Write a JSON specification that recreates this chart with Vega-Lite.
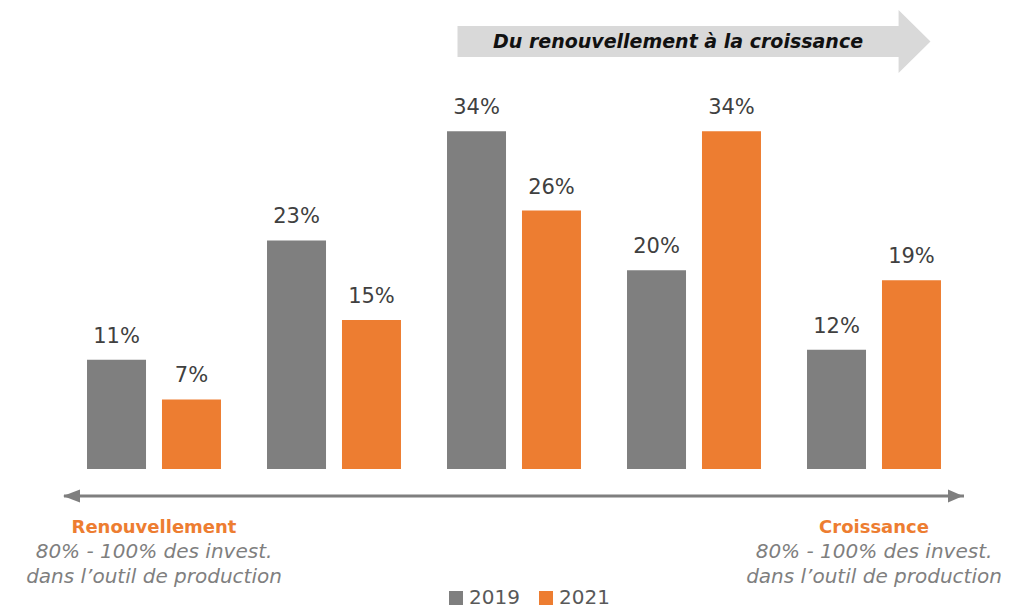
{
  "$schema": "https://vega.github.io/schema/vega-lite/v6.json",
  "autosize": {"type": "none"},
  "padding": {"left": 64, "top": 0, "right": 51, "bottom": 0},
  "width": 900,
  "height": 610,
  "config": {"view": {"stroke": null}, "font": "DejaVu Sans"},
  "datasets": {
    "parts": [
      {"groupe": "1", "annee": "2019", "part": 0.11},
      {"groupe": "1", "annee": "2021", "part": 0.07},
      {"groupe": "2", "annee": "2019", "part": 0.23},
      {"groupe": "2", "annee": "2021", "part": 0.15},
      {"groupe": "3", "annee": "2019", "part": 0.34},
      {"groupe": "3", "annee": "2021", "part": 0.26},
      {"groupe": "4", "annee": "2019", "part": 0.20},
      {"groupe": "4", "annee": "2021", "part": 0.34},
      {"groupe": "5", "annee": "2019", "part": 0.12},
      {"groupe": "5", "annee": "2021", "part": 0.19}
    ],
    "poles": [
      {"groupe": "1", "titre": "Renouvellement", "ligne1": "80% - 100% des invest.", "ligne2": "dans l’outil de production"},
      {"groupe": "5", "titre": "Croissance", "ligne1": "80% - 100% des invest.", "ligne2": "dans l’outil de production"}
    ],
    "fleche": [
      {"libelle": "Du renouvellement à la croissance"}
    ]
  },
  "layer": [
    {
      "data": {"name": "parts"},
      "mark": {"type": "bar"},
      "encoding": {
        "x": {"field": "groupe", "type": "nominal", "axis": null,
              "scale": {"domain": ["1", "2", "3", "4", "5"], "paddingInner": 0, "paddingOuter": 0}},
        "xOffset": {"field": "annee", "type": "nominal",
                    "scale": {"domain": ["2019", "2021"], "paddingInner": 0.213, "paddingOuter": 0.307}},
        "y": {"field": "part", "type": "quantitative", "axis": null,
              "scale": {"domain": [-0.142, 0.472], "nice": false, "zero": false}},
        "color": {"field": "annee", "type": "nominal",
                  "scale": {"domain": ["2019", "2021"], "range": ["#7f7f7f", "#ed7d31"]},
                  "legend": {"title": null, "orient": "none", "direction": "horizontal",
                             "legendX": 382, "legendY": 588, "padding": 0,
                             "symbolType": "square", "symbolSize": 196, "symbolStrokeWidth": 0,
                             "labelFontSize": 20, "labelColor": "#595959", "labelOffset": 3,
                             "columnPadding": 16}}
      }
    },
    {
      "data": {"name": "parts"},
      "mark": {"type": "text", "baseline": "alphabetic", "dy": -17, "fontSize": 21, "color": "#404040"},
      "encoding": {
        "x": {"field": "groupe", "type": "nominal"},
        "xOffset": {"field": "annee", "type": "nominal"},
        "y": {"field": "part", "type": "quantitative"},
        "text": {"field": "part", "type": "quantitative", "format": ".0%"}
      }
    },
    {
      "data": {"name": "fleche"},
      "mark": {"type": "point", "filled": true, "opacity": 1, "fill": "#d9d9d9", "strokeWidth": 0,
               "size": 223729,
               "shape": "M-1,-0.0655L0.865,-0.0655L0.865,-0.133L1,0L0.865,0.133L0.865,0.0655L-1,0.0655Z"},
      "encoding": {
        "x": {"datum": "4", "type": "nominal"},
        "y": {"datum": 0.4302, "type": "quantitative"}
      }
    },
    {
      "data": {"name": "fleche"},
      "mark": {"type": "text", "fontSize": 19, "fontWeight": "bold", "fontStyle": "italic",
               "color": "#111111", "baseline": "middle", "dx": -16},
      "encoding": {
        "x": {"datum": "4", "type": "nominal"},
        "y": {"datum": 0.4302, "type": "quantitative"},
        "text": {"field": "libelle"}
      }
    },
    {
      "data": {"name": "fleche"},
      "mark": {"type": "rule", "strokeWidth": 3, "color": "#7f7f7f"},
      "encoding": {
        "y": {"datum": -0.0273, "type": "quantitative"}
      }
    },
    {
      "data": {"name": "fleche"},
      "mark": {"type": "point", "filled": true, "opacity": 1, "fill": "#7f7f7f", "strokeWidth": 0,
               "size": 400, "shape": "M-0.1,0L1.6,-0.65L1.6,0.65Z"},
      "encoding": {
        "x": {"datum": "1", "type": "nominal", "bandPosition": 0},
        "y": {"datum": -0.0273, "type": "quantitative"}
      }
    },
    {
      "data": {"name": "fleche"},
      "mark": {"type": "point", "filled": true, "opacity": 1, "fill": "#7f7f7f", "strokeWidth": 0,
               "size": 400, "shape": "M-0.1,0L-1.6,-0.65L-1.6,0.65Z"},
      "encoding": {
        "x": {"datum": "5", "type": "nominal", "bandPosition": 1},
        "y": {"datum": -0.0273, "type": "quantitative"}
      }
    },
    {
      "data": {"name": "poles"},
      "mark": {"type": "text", "fontSize": 18, "fontWeight": "bold", "color": "#ed7d31", "baseline": "middle"},
      "encoding": {
        "x": {"field": "groupe", "type": "nominal"},
        "y": {"datum": -0.0595, "type": "quantitative"},
        "text": {"field": "titre"}
      }
    },
    {
      "data": {"name": "poles"},
      "mark": {"type": "text", "fontSize": 20, "fontStyle": "italic", "color": "#7f7f7f", "baseline": "middle"},
      "encoding": {
        "x": {"field": "groupe", "type": "nominal"},
        "y": {"datum": -0.0836, "type": "quantitative"},
        "text": {"field": "ligne1"}
      }
    },
    {
      "data": {"name": "poles"},
      "mark": {"type": "text", "fontSize": 20, "fontStyle": "italic", "color": "#7f7f7f", "baseline": "middle"},
      "encoding": {
        "x": {"field": "groupe", "type": "nominal"},
        "y": {"datum": -0.1088, "type": "quantitative"},
        "text": {"field": "ligne2"}
      }
    }
  ]
}
